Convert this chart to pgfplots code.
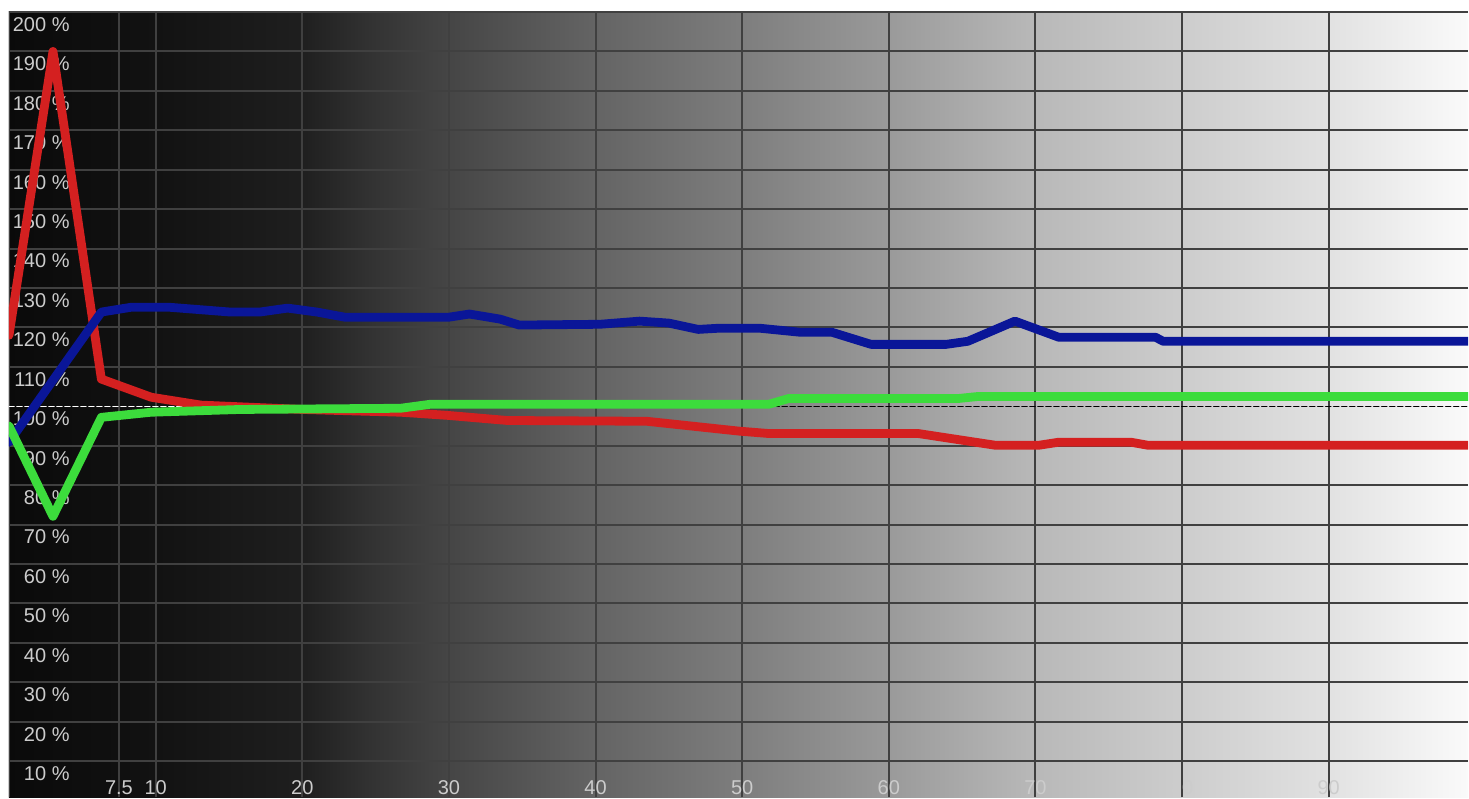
\documentclass[border=0pt]{standalone}
\usepackage{fontspec}
\setmainfont{Liberation Sans}
\usepackage{pgfplots}
\pgfplotsset{compat=1.18}
\definecolor{gridc}{HTML}{404040}
\definecolor{lab}{HTML}{CCCCCC}
\definecolor{rline}{HTML}{D42020}
\definecolor{gline}{HTML}{3CDC3C}
\definecolor{bline}{HTML}{0A1698}
\pgfdeclarehorizontalshading{bgshade}{100bp}{%
 color(0bp)=(black!96);
 color(25bp)=(black!96);
 color(30bp)=(black!93);
 color(35bp)=(black!88);
 color(37.5bp)=(black!80);
 color(40bp)=(black!73);
 color(45bp)=(black!61);
 color(50bp)=(black!51);
 color(55bp)=(black!40);
 color(60bp)=(black!28);
 color(65bp)=(black!20);
 color(70bp)=(black!12);
 color(75bp)=(black!2);
 color(100bp)=(black!2)}
\begin{document}
\begin{tikzpicture}
\begin{axis}[name=ax, set layers, scale only axis, width=730pt, height=393pt,
 xmin=0, xmax=99.5, ymin=0.8, ymax=200,
 axis background/.style={shade, shading=bgshade},
 xtick={7.5,10,20,30,40,50,60,70,80,90},
 xticklabels={7.5,10,20,30,40,50,60,70,80,90},
 ytick={10,20,30,40,50,60,70,80,90,110,120,130,140,150,160,170,180,190,200},
 yticklabels={10 \%,20 \%,30 \%,40 \%,50 \%,60 \%,70 \%,80 \%,90 \%,110 \%,120 \%,130 \%,140 \%,150 \%,160 \%,170 \%,180 \%,190 \%,200 \%},
 extra y ticks={100}, extra y tick labels={100 \%}, extra y tick style={grid=none},
 major tick length=0pt,
 grid=major, grid style={gridc, line width=1pt},
 axis line style={draw=none},
 tick label style={font=\fontsize{10}{12}\selectfont, text=lab, inner sep=0pt},
 yticklabel style={anchor=north east, xshift=30.5pt, yshift=-2.5pt},
 xticklabel style={anchor=south, yshift=1pt},
 every axis plot/.append style={line join=round, line cap=round},
]
\draw[gridc, line width=1pt] (rel axis cs:0,0) -- (rel axis cs:0,1) -- (rel axis cs:1,1);
\addplot[white, line width=0.8pt, dash pattern=on 2.5pt off 1.5pt, forget plot] coordinates {(0,100) (50,100)};
\addplot[black, line width=0.8pt, dash pattern=on 2.5pt off 1.5pt, forget plot] coordinates {(50,100) (99.5,100)};
% red
\addplot[rline, line width=4.4pt] coordinates {
(0,118) (3.0,190) (6.3,106.9) (9.7,102.3) (13.1,100.3) (20,99.2) (26.7,98.5) (29.9,97.7)
(34,96.4) (43.5,96.2) (49.8,93.7) (51.8,93.1) (62,93.1) (67.3,90.1) (70.2,90.1) (71.6,90.9)
(76.5,90.9) (77.7,90.1) (99.5,90.1)};
% blue
\addplot[bline, line width=4.4pt] coordinates {
(0,90.9) (6.3,123.9) (8.3,125.1) (11,125.1) (15.1,123.9) (17.1,123.9) (19,124.9) (21,123.9)
(22.9,122.6) (30,122.6) (31.4,123.4) (33.5,122.1) (34.8,120.6) (40.3,120.8) (43,121.6)
(45,121.1) (47,119.5) (48.4,119.8) (51.2,119.8) (53.9,118.8) (56.1,118.8) (58.8,115.7)
(63.9,115.7) (65.4,116.5) (68.6,121.6) (71.6,117.5) (78.2,117.5) (78.7,116.5) (99.5,116.5)};
% green
\addplot[gline, line width=4.4pt] coordinates {
(0,95) (3.0,72.1) (6.3,97.2) (9.7,98.5) (15.8,99.2) (26.7,99.5) (28.7,100.5) (51.8,100.5)
(53.2,102) (64.8,102) (66.1,102.5) (99.5,102.5)};
\end{axis}
\path ([xshift=-4.5pt]ax.south west) ([yshift=6pt]ax.north east);
\end{tikzpicture}
\end{document}
